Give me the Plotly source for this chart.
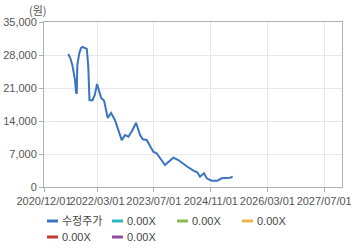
import plotly.graph_objects as go

dates = ["2021-06-27", "2021-07-15", "2021-08-01", "2021-08-24", "2021-09-02", "2021-09-08",
         "2021-09-13", "2021-09-30", "2021-10-15", "2021-10-29", "2021-12-03", "2021-12-16",
         "2021-12-26", "2022-01-21", "2022-02-10", "2022-03-01", "2022-04-05", "2022-04-30",
         "2022-06-01", "2022-06-29", "2022-08-02", "2022-09-14", "2022-09-29", "2022-10-27",
         "2022-11-25", "2022-12-28", "2023-01-30", "2023-03-05", "2023-03-28", "2023-05-01",
         "2023-06-26", "2023-07-25", "2023-08-25", "2023-10-05", "2023-12-15", "2024-01-27",
         "2024-04-08", "2024-06-04", "2024-07-08", "2024-07-31", "2024-09-03", "2024-09-27",
         "2024-11-08", "2024-12-27", "2025-02-02", "2025-04-15", "2025-05-08"]
prices = [28200, 27300, 25900, 22700, 20000, 19800,
          25900, 28400, 29500, 29700, 29300, 25450,
          18450, 18350, 19600, 21850, 18900, 18350,
          14650, 15700, 14200, 10670, 9950, 11030,
          10670, 12000, 13640, 11030, 10120, 9970,
          7490, 7150, 6000, 4670, 6220, 5730,
          4390, 3460, 3120, 2190, 2900, 1840,
          1340, 1340, 1840, 1980, 2190]

legend_names = ["수정주가", "0.00X", "0.00X", "0.00X", "0.00X", "0.00X"]
legend_colors = ["#3b74c0", "#2cb6bb", "#8db552", "#eeb44b", "#c33b2e", "#8e4f9b"]

tick_dates = ["2020-12-01", "2022-03-01", "2023-07-01", "2024-11-01", "2026-03-01", "2027-07-01"]
tick_text = ["2020/12/01", "2022/03/01", "2023/07/01", "2024/11/01", "2026/03/01", "2027/07/01"]
y_ticks = [0, 7000, 14000, 21000, 28000, 35000]

fig = go.Figure()
fig.add_trace(go.Scatter(x=dates, y=prices, mode="lines",
                         line=dict(color=legend_colors[0], width=2),
                         name=legend_names[0], showlegend=False))

font = dict(family="Liberation Sans, Arial, sans-serif", size=11, color="#555")

fig.update_layout(
    width=360, height=248,
    margin=dict(l=44, r=18, t=22, b=61),
    paper_bgcolor="white", plot_bgcolor="white",
    font=font,
    showlegend=False,
    xaxis=dict(range=["2020-12-01", "2027-12-01"], tickvals=tick_dates, ticktext=tick_text,
               tickangle=0, automargin=False,
               showgrid=True, gridcolor="#e8e8e8", gridwidth=1,
               showline=True, linecolor="#b0b0b0", mirror=True,
               ticks="outside", ticklen=4, tickcolor="#b0b0b0",
               tickfont=font, zeroline=False, fixedrange=True),
    yaxis=dict(range=[0, 35000], tickvals=y_ticks, tickformat=",d", automargin=False,
               showgrid=True, gridcolor="#e8e8e8", gridwidth=1,
               showline=True, linecolor="#b0b0b0", mirror=True,
               ticks="outside", ticklen=4, tickcolor="#b0b0b0",
               tickfont=font, zeroline=False, fixedrange=True),
)

fig.add_annotation(text="(원)", xref="paper", yref="paper", x=-0.02, y=1.0, yshift=12,
                   xanchor="center", yanchor="middle", showarrow=False,
                   font=dict(family="Noto Sans CJK KR, sans-serif", size=11, color="#555"))

# manual legend
W, H = 298.0, 165.0
positions = [(47, 221), (112, 221), (177, 221), (242, 221), (47, 237), (112, 237)]
for name, color, (px, py) in zip(legend_names, legend_colors, positions):
    x0 = (px - 44) / W
    x1 = (px + 11 - 44) / W
    yy = (187 - py) / H
    fig.add_shape(type="line", xref="paper", yref="paper", x0=x0, x1=x1, y0=yy, y1=yy,
                  line=dict(color=color, width=3))
    fig.add_annotation(text=name, xref="paper", yref="paper", x=(px + 14 - 44) / W, y=yy,
                       xanchor="left", yanchor="middle", showarrow=False, borderpad=0,
                       font=dict(family="Liberation Sans, Noto Sans CJK KR, sans-serif", size=11, color="#444"))

fig.write_html("out.html")
